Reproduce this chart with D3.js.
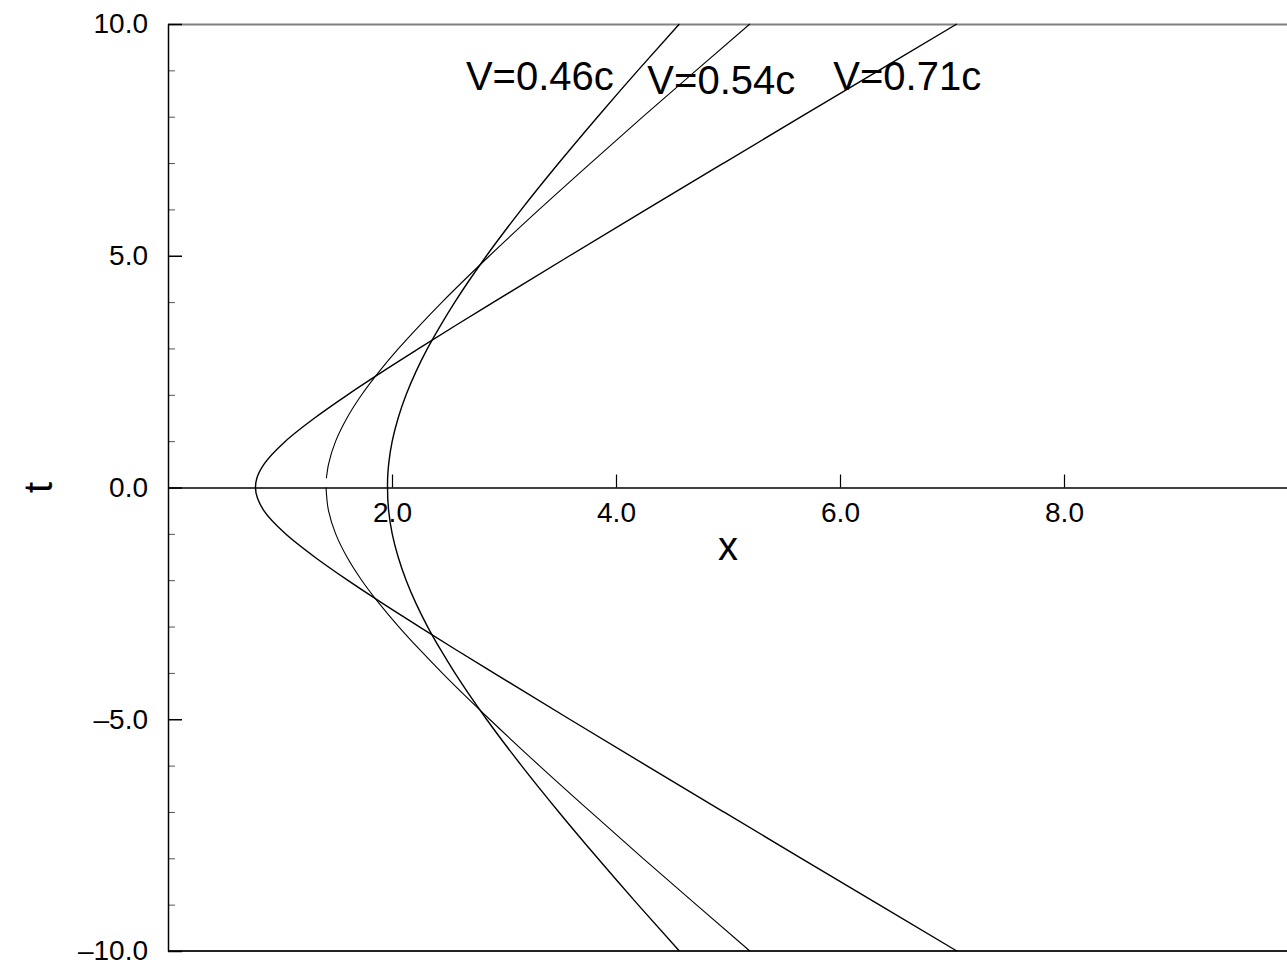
<!DOCTYPE html>
<html>
<head>
<meta charset="utf-8">
<script src="https://cdn.jsdelivr.net/npm/d3@7"></script>
<style>
  body { margin: 0; background: #fff; }
  svg { display: block; font-family: "Liberation Sans", Arial, sans-serif; }
</style>
</head>
<body>
<svg id="chart"></svg>
<script>
const tGrid = [-10, -9, -8, -7, -6, -5, -4, -3.5, -3, -2.5, -2, -1.5, -1, -0.5, 0,
               0.2, 0.5, 1, 1.5, 2, 2.5, 3, 3.5, 4, 5, 6, 7, 8, 9, 10];

// x position of each trace at those times
const xFast = [7.043, 6.348, 5.654, 4.962, 4.272, 3.586, 2.907, 2.571, 2.241, 1.916, 1.603, 1.309, 1.049, 0.856, 0.781,
               0.793, 0.856, 1.049, 1.309, 1.603, 1.916, 2.241, 2.571, 2.907, 3.586, 4.272, 4.962, 5.654, 6.348, 7.043];
const xMid  = [5.195, 4.716, 4.241, 3.774, 3.315, 2.871, 2.447, 2.248, 2.059, 1.885, 1.729, 1.598, 1.497, 1.433, 1.411,
               1.414, 1.433, 1.497, 1.598, 1.729, 1.885, 2.059, 2.248, 2.447, 2.871, 3.315, 3.774, 4.241, 4.716, 5.195];
const xSlow = [4.565, 4.196, 3.837, 3.489, 3.156, 2.844, 2.561, 2.434, 2.317, 2.214, 2.126, 2.055, 2.002, 1.970, 1.960,
               1.961, 1.970, 2.002, 2.055, 2.126, 2.214, 2.317, 2.434, 2.561, 2.844, 3.156, 3.489, 3.837, 4.196, 4.565];

// the middle trace is broken just above t = 0
const midGap = [0, 0.2];

const speedLabels = ["V=0.46c", "V=0.54c", "V=0.71c"];
const xTickValues = [2, 4, 6, 8];
const tMajorTicks = [-10, -5, 0, 5, 10];
const tMinorTicks = [-9, -8, -7, -6, -4, -3, -2, -1, 1, 2, 3, 4, 6, 7, 8, 9];

const width = 1287, height = 972;
const margin = {top: 24, bottom: 21, left: 168, right: -1};

const svg = d3.select("#chart")
    .attr("width", width)
    .attr("height", height);

const xScale = d3.scaleLinear()
    .domain([0, 10])
    .range([margin.left, width - margin.right]);

const yScale = d3.scaleLinear()
    .domain([-10, 10])
    .range([height - margin.bottom, margin.top]);

const fmt = d => (d < 0 ? "\u2013" : "") + d3.format(".1f")(Math.abs(d));

// frame lines top and bottom
svg.append("line")
    .attr("x1", xScale(0)).attr("x2", xScale(10))
    .attr("y1", yScale(10) + 0.5).attr("y2", yScale(10) + 0.5)
    .attr("stroke", "#808080").attr("stroke-width", 2);

svg.append("line")
    .attr("x1", xScale(0)).attr("x2", xScale(10))
    .attr("y1", yScale(-10)).attr("y2", yScale(-10))
    .attr("stroke", "#222").attr("stroke-width", 2);

// y axis: minor ticks
svg.append("g")
    .attr("transform", `translate(${xScale(0)},0)`)
    .call(d3.axisLeft(yScale).tickValues(tMinorTicks).tickSizeInner(-7).tickSizeOuter(0).tickFormat(""))
    .call(g => g.select(".domain").remove())
    .call(g => g.selectAll(".tick line").attr("stroke", "#555"));

// y axis: major ticks and labels
svg.append("g")
    .attr("transform", `translate(${xScale(0)},0)`)
    .call(d3.axisLeft(yScale).tickValues(tMajorTicks).tickSizeInner(-14).tickSizeOuter(0)
        .tickPadding(20).tickFormat(fmt))
    .call(g => g.select(".domain").attr("stroke", "#000").attr("stroke-width", 1.5))
    .call(g => g.selectAll(".tick line").attr("stroke", "#000").attr("stroke-width", 1.5))
    .call(g => g.selectAll(".tick text").attr("font-size", 28).attr("fill", "#000")
        .attr("font-family", "Liberation Sans, Arial, sans-serif"));

// x axis along t = 0
svg.append("g")
    .attr("transform", `translate(0,${yScale(0)})`)
    .call(d3.axisBottom(xScale).tickValues(xTickValues).tickSizeInner(-13).tickSizeOuter(0)
        .tickPadding(15).tickFormat(d3.format(".1f")))
    .call(g => g.select(".domain").attr("stroke", "#000").attr("stroke-width", 1.5))
    .call(g => g.selectAll(".tick line").attr("stroke", "#000").attr("stroke-width", 1.2))
    .call(g => g.selectAll(".tick text").attr("font-size", 28).attr("fill", "#000")
        .attr("font-family", "Liberation Sans, Arial, sans-serif"));

// axis titles
svg.append("text")
    .attr("x", xScale(5))
    .attr("y", yScale(0) + 72)
    .attr("text-anchor", "middle")
    .attr("font-size", 40)
    .text("x");

svg.append("text")
    .attr("transform", `translate(52,${yScale(0)}) rotate(-90)`)
    .attr("text-anchor", "middle")
    .attr("font-size", 40)
    .text("t");

// traces
const line = d3.line()
    .x(d => xScale(d.x))
    .y(d => yScale(d.t))
    .curve(d3.curveMonotoneY);

const toPoints = xs => tGrid.map((t, i) => ({t: t, x: xs[i]}));

const midPts = toPoints(xMid);
const traces = [
    {pts: toPoints(xSlow), w: 1.4},
    {pts: midPts.filter(d => d.t <= midGap[0]), w: 1.1},
    {pts: midPts.filter(d => d.t >= midGap[1]), w: 1.1},
    {pts: toPoints(xFast), w: 1.4}
];

svg.selectAll(".trace")
    .data(traces)
    .enter().append("path")
    .attr("class", "trace")
    .attr("d", d => line(d.pts))
    .attr("fill", "none")
    .attr("stroke", "#000")
    .attr("stroke-width", d => d.w);

// speed labels
const labelAt = [[2.66, 8.58], [4.28, 8.49], [5.94, 8.58]];
svg.selectAll(".speed")
    .data(speedLabels)
    .enter().append("text")
    .attr("class", "speed")
    .attr("x", (d, i) => xScale(labelAt[i][0]))
    .attr("y", (d, i) => yScale(labelAt[i][1]))
    .attr("font-size", 40)
    .text(d => d);
</script>
</body>
</html>
